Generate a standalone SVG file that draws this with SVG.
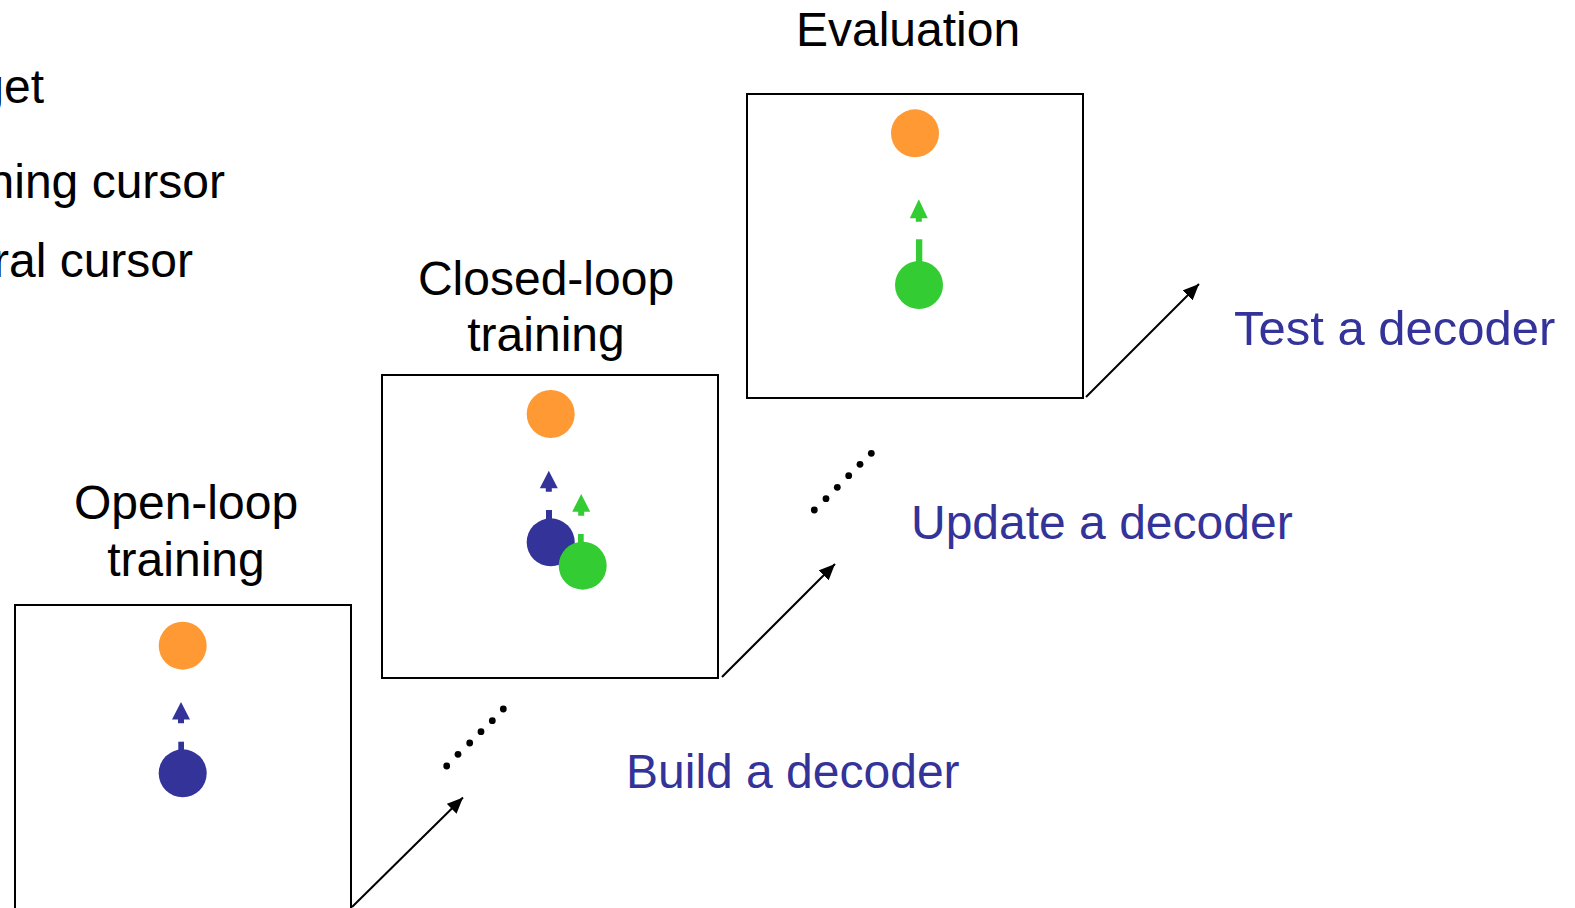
<svg xmlns="http://www.w3.org/2000/svg" width="1575" height="908" viewBox="0 0 1575 908">
  <style>
    .frame { fill: #ffffff; stroke: #000000; stroke-width: 2; }
    .title { font-family: "Liberation Sans", Arial, sans-serif; font-size: 48px; fill: #000000; text-anchor: middle; }
    .legend { font-family: "Liberation Sans", Arial, sans-serif; font-size: 48px; fill: #000000; text-anchor: end; }
    .step { font-family: "Liberation Sans", Arial, sans-serif; font-size: 48px; fill: #333399; }
    .target { fill: #FF9933; }
    .neural { fill: #333399; }
    .train { fill: #33CC33; }
    .link { stroke: #000000; stroke-width: 2; fill: none; }
    .dot { fill: #000000; }
  </style>
  <defs>
    <marker id="head" markerUnits="userSpaceOnUse" markerWidth="18" markerHeight="14" refX="16" refY="7" orient="auto">
      <path d="M0,0 L16,7 L0,14 Z" fill="#000000"/>
    </marker>
  </defs>

  <rect width="1575" height="908" fill="#ffffff"/>

  <!-- legend, running off the left edge -->
  <g id="legend">
    <text class="legend" x="44" y="103">get</text>
    <text class="legend" x="225" y="198">ning cursor</text>
    <text class="legend" x="193" y="277">ral cursor</text>
  </g>

  <!-- stage 1: open-loop training -->
  <g id="open-loop">
    <text class="title" x="186" y="519">Open-loop</text>
    <text class="title" x="186" y="576">training</text>
    <rect class="frame" x="15" y="605" width="336" height="320"/>
    <circle class="target" cx="182.7" cy="645.7" r="24"/>
    <path class="neural" d="M181,702 L190,719.5 L184,719.5 L184,723.3 L178,723.3 L178,719.5 L172,719.5 Z"/>
    <rect class="neural" x="178.3" y="741.7" width="5.7" height="10"/>
    <circle class="neural" cx="182.7" cy="773.3" r="24"/>
  </g>

  <!-- stage 2: closed-loop training -->
  <g id="closed-loop">
    <text class="title" x="546" y="294.5">Closed-loop</text>
    <text class="title" x="546" y="351">training</text>
    <rect class="frame" x="382" y="375" width="336" height="303"/>
    <circle class="target" cx="550.7" cy="414" r="24"/>
    <path class="neural" d="M548.8,470.7 L557.8,488.3 L551.8,488.3 L551.8,491.7 L545.8,491.7 L545.8,488.3 L539.8,488.3 Z"/>
    <rect class="neural" x="546" y="510" width="6" height="12"/>
    <circle class="neural" cx="550.7" cy="542.3" r="24"/>
    <path class="train" d="M581.2,494 L590.2,511.7 L584.2,511.7 L584.2,515.7 L578.2,515.7 L578.2,511.7 L572.2,511.7 Z"/>
    <rect class="train" x="578" y="534" width="5.7" height="12"/>
    <circle class="train" cx="582.7" cy="565.7" r="24"/>
  </g>

  <!-- stage 3: evaluation -->
  <g id="evaluation">
    <text class="title" x="908" y="46">Evaluation</text>
    <rect class="frame" x="747" y="94" width="336" height="304"/>
    <circle class="target" cx="915" cy="133.3" r="24"/>
    <path class="train" d="M918.8,199.3 L927.8,218.3 L921.8,218.3 L921.8,221.7 L915.8,221.7 L915.8,218.3 L909.8,218.3 Z"/>
    <rect class="train" x="916" y="239.3" width="6.3" height="26"/>
    <circle class="train" cx="919" cy="285" r="24"/>
  </g>

  <!-- step labels -->
  <g id="step-labels">
    <text class="step" x="626" y="788">Build a decoder</text>
    <text class="step" x="911" y="539">Update a decoder</text>
    <text class="step" x="1234" y="345" style="font-size:49px">Test a decoder</text>
  </g>

  <!-- connectors between stages -->
  <g id="connectors">
    <line class="link" x1="352" y1="907" x2="463" y2="797.5" marker-end="url(#head)"/>
    <line class="link" x1="722" y1="677" x2="835" y2="564" marker-end="url(#head)"/>
    <line class="link" x1="1086" y1="397" x2="1199" y2="284" marker-end="url(#head)"/>
    <g id="ellipsis-1">
      <circle class="dot" cx="446.7" cy="766" r="3.4"/>
      <circle class="dot" cx="458" cy="754.3" r="3.4"/>
      <circle class="dot" cx="469.7" cy="743" r="3.4"/>
      <circle class="dot" cx="481" cy="731.7" r="3.4"/>
      <circle class="dot" cx="492.3" cy="720.7" r="3.4"/>
      <circle class="dot" cx="503.3" cy="709" r="3.4"/>
    </g>
    <g id="ellipsis-2">
      <circle class="dot" cx="814.3" cy="510" r="3.4"/>
      <circle class="dot" cx="826" cy="498.7" r="3.4"/>
      <circle class="dot" cx="837.3" cy="487.3" r="3.4"/>
      <circle class="dot" cx="848.7" cy="475.7" r="3.4"/>
      <circle class="dot" cx="860" cy="464.3" r="3.4"/>
      <circle class="dot" cx="871.3" cy="453.3" r="3.4"/>
    </g>
  </g>
</svg>
